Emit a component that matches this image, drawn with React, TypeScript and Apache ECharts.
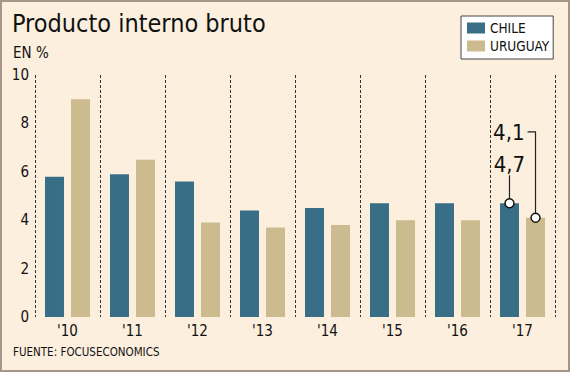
import React, { useEffect, useRef } from "react";
import * as echarts from "echarts";

const categories = ["'10", "'11", "'12", "'13", "'14", "'15", "'16", "'17"];
const chile = [5.8, 5.9, 5.6, 4.4, 4.5, 4.7, 4.7, 4.7];
const uruguay = [9.0, 6.5, 3.9, 3.7, 3.8, 4.0, 4.0, 4.1];
const seriesNames = ["CHILE", "URUGUAY"];
const yTicks = { min: 0, max: 10, interval: 2 };
const annotated = { index: 7, chileLabel: "4,7", uruguayLabel: "4,1" };

const FONT = "'DejaVu Sans Condensed', 'DejaVu Sans', sans-serif";
const BG = "#fcefde";
const CHILE_COLOR = "#386f86";
const URU_COLOR = "#cbbb8f";

export default function App() {
  const ref = useRef<HTMLDivElement>(null);
  useEffect(() => {
    document.body.style.margin = "0";
    const chart = echarts.init(ref.current!, null, { renderer: "svg" });
    const option: any = {
      animation: false,
      backgroundColor: BG,
      textStyle: { fontFamily: FONT },
      title: [
        {
          text: "Producto interno bruto",
          left: 12,
          top: 11,
          padding: 0,
          textStyle: { fontFamily: FONT, fontSize: 25, fontWeight: "normal", color: "#111" },
        },
        {
          text: "EN %",
          left: 13,
          top: 45,
          padding: 0,
          textStyle: { fontFamily: FONT, fontSize: 15, fontWeight: "normal", color: "#111" },
        },
        {
          text: "FUENTE: FOCUSECONOMICS",
          left: 13,
          top: 346,
          padding: 0,
          textStyle: { fontFamily: FONT, fontSize: 11.5, fontWeight: "normal", color: "#111" },
        },
      ],
      legend: {
        orient: "vertical",
        left: 461,
        top: 16,
        backgroundColor: "#ffffff",
        borderColor: "#444",
        borderWidth: 1,
        borderRadius: 0,
        padding: [5, 4, 6, 6],
        itemWidth: 18,
        itemHeight: 11,
        itemGap: 4,
        icon: "rect",
        textStyle: { fontFamily: FONT, fontSize: 13.5, color: "#111" },
        data: seriesNames,
      },
      grid: { left: 35, right: 15, top: 75, bottom: 55, containLabel: false },
      xAxis: {
        type: "category",
        data: categories,
        axisLine: { show: false },
        axisTick: { show: false },
        axisLabel: { fontFamily: FONT, fontSize: 15, color: "#111", margin: 6 },
        splitLine: {
          show: true,
          interval: 0,
          lineStyle: { color: "#333", type: [3, 2], width: 1 },
        },
      },
      yAxis: {
        type: "value",
        min: yTicks.min,
        max: yTicks.max,
        interval: yTicks.interval,
        axisLine: { show: false },
        axisTick: { show: false },
        splitLine: { show: false },
        axisLabel: { fontFamily: FONT, fontSize: 15, color: "#111", margin: 6 },
      },
      series: [
        {
          name: seriesNames[0],
          type: "bar",
          data: chile,
          barWidth: 19,
          barGap: "37%",
          itemStyle: { color: CHILE_COLOR },
        },
        {
          name: seriesNames[1],
          type: "bar",
          data: uruguay,
          barWidth: 19,
          itemStyle: { color: URU_COLOR },
        },
      ],
    };
    chart.setOption(option);

    const model = (chart as any).getModel();
    const barTop = (si: number, idx: number) => {
      const lay = model.getSeriesByIndex(si).getData().getItemLayout(idx);
      const cx = lay.x + lay.width / 2;
      const top = Math.min(lay.y, lay.y + lay.height);
      return [cx, top];
    };
    const [c1x, c1y] = barTop(0, annotated.index);
    const [c2x, c2y] = barTop(1, annotated.index);
    const r = 4.5;
    const lineStyle = { stroke: "#222", lineWidth: 1.2 };
    const circleStyle = { fill: "#fff", stroke: "#111", lineWidth: 1.5 };
    const labelStyle = { fontFamily: FONT, fontSize: 22, fill: "#111" };
    const u2Top = c2y - 86;
    chart.setOption({
      graphic: [
        {
          type: "rect",
          shape: { x: 1, y: 1, width: 568, height: 370 },
          style: { fill: "none", stroke: "#a8958a", lineWidth: 2 },
          silent: true,
        },
        { type: "line", shape: { x1: c1x, y1: c1y - r, x2: c1x, y2: c1y - 28 }, style: lineStyle },
        { type: "circle", shape: { cx: c1x, cy: c1y, r }, style: circleStyle, z: 10 },
        {
          type: "text",
          x: c1x,
          y: c1y - 28,
          style: { ...labelStyle, text: annotated.chileLabel, align: "center", verticalAlign: "bottom" },
        },
        {
          type: "polyline",
          shape: { points: [[c2x, c2y - r], [c2x, u2Top], [c2x - 8, u2Top]] },
          style: { ...lineStyle, fill: "none" },
        },
        { type: "circle", shape: { cx: c2x, cy: c2y, r }, style: circleStyle, z: 10 },
        {
          type: "text",
          x: c2x - 11,
          y: u2Top + 1,
          style: { ...labelStyle, text: annotated.uruguayLabel, align: "right", verticalAlign: "middle" },
        },
      ],
    });
    return () => chart.dispose();
  }, []);
  return <div ref={ref} style={{ width: 570, height: 372 }} />;
}
